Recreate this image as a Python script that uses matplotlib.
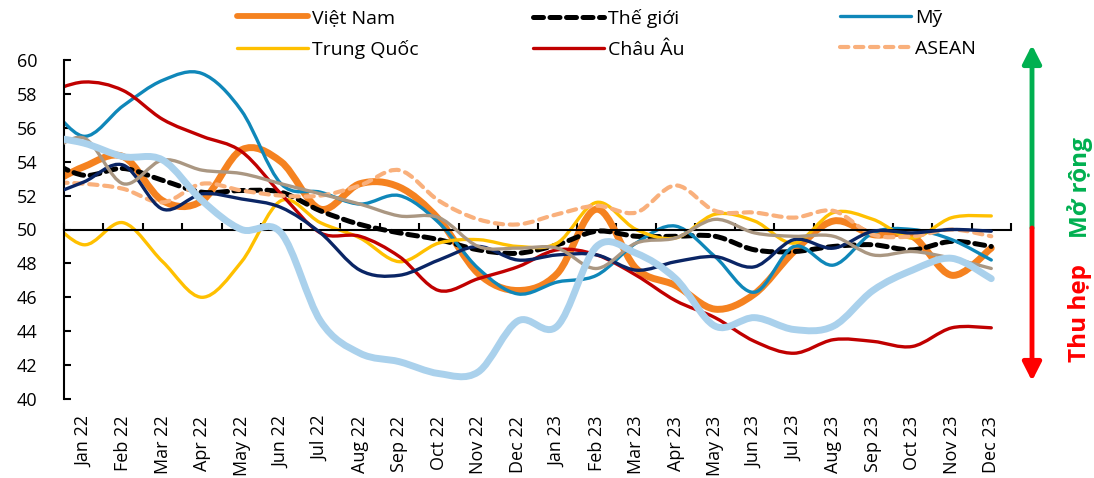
import numpy as np
import matplotlib
matplotlib.use("Agg")
import matplotlib.pyplot as plt
from matplotlib.path import Path
from matplotlib.patches import PathPatch, ArrowStyle, FancyArrowPatch
from matplotlib.lines import Line2D

plt.rcParams['font.family'] = ['Open Sans', 'DejaVu Sans']

# Categories (first entry Dec 21 lies just left of the visible axis; lines are clipped there)
months = ['Dec 21',
          'Jan 22', 'Feb 22', 'Mar 22', 'Apr 22', 'May 22', 'Jun 22', 'Jul 22', 'Aug 22',
          'Sep 22', 'Oct 22', 'Nov 22', 'Dec 22',
          'Jan 23', 'Feb 23', 'Mar 23', 'Apr 23', 'May 23', 'Jun 23', 'Jul 23', 'Aug 23',
          'Sep 23', 'Oct 23', 'Nov 23', 'Dec 23']

viet_nam = [52.5, 53.7, 54.3, 51.7, 51.7, 54.7, 54.0, 51.2, 52.7, 52.5, 50.6, 47.4, 46.4,
            47.4, 51.2, 47.7, 46.7, 45.3, 46.2, 48.7, 50.5, 49.7, 49.6, 47.3, 48.9]
the_gioi = [54.2, 53.2, 53.6, 52.9, 52.2, 52.3, 52.2, 51.1, 50.3, 49.8, 49.4, 48.8, 48.6,
            49.1, 49.9, 49.6, 49.6, 49.6, 48.8, 48.7, 49.0, 49.1, 48.8, 49.3, 49.0]
my = [57.7, 55.5, 57.3, 58.8, 59.2, 57.0, 52.7, 52.2, 51.5, 52.0, 50.4, 47.7, 46.2,
      46.9, 47.3, 49.2, 50.2, 48.4, 46.3, 49.0, 47.9, 49.8, 50.0, 49.4, 48.2]
trung_quoc = [50.9, 49.1, 50.4, 48.1, 46.0, 48.1, 51.7, 50.4, 49.5, 48.1, 49.2, 49.4, 49.0,
              49.2, 51.6, 50.0, 49.5, 50.9, 50.5, 49.2, 51.0, 50.6, 49.5, 50.7, 50.8]
chau_au = [58.0, 58.7, 58.2, 56.5, 55.5, 54.6, 52.1, 49.8, 49.6, 48.4, 46.4, 47.1, 47.8,
           48.8, 48.5, 47.3, 45.8, 44.8, 43.4, 42.7, 43.5, 43.4, 43.1, 44.2, 44.2]
asean = [52.8, 52.7, 52.4, 51.6, 52.7, 52.3, 52.0, 52.0, 52.6, 53.5, 51.7, 50.6, 50.3,
         50.9, 51.4, 51.0, 52.6, 51.1, 51.0, 50.7, 51.1, 49.7, 49.6, 50.0, 49.6]
han_quoc = [51.9, 52.8, 53.8, 51.2, 52.1, 51.8, 51.3, 49.8, 47.6, 47.3, 48.2, 49.0, 48.2,
            48.5, 48.5, 47.6, 48.1, 48.4, 47.8, 49.4, 48.9, 49.9, 49.8, 50.0, 49.9]
nhat_ban = [54.3, 55.4, 52.7, 54.1, 53.5, 53.3, 52.7, 52.1, 51.5, 50.8, 50.7, 49.0, 48.9,
            48.9, 47.7, 49.2, 49.5, 50.6, 49.8, 49.6, 49.6, 48.5, 48.7, 48.3, 47.7]
dai_loan = [55.5, 55.1, 54.3, 54.1, 51.7, 50.0, 49.8, 44.6, 42.7, 42.2, 41.5, 41.6, 44.6,
            44.3, 49.0, 48.6, 47.1, 44.3, 44.8, 44.1, 44.3, 46.4, 47.6, 48.3, 47.1]

W, H = 1094, 478
fig = plt.figure(figsize=(W / 100, H / 100), dpi=100)
ax = fig.add_axes([64 / W, 1 - 399 / H, (1011 - 64) / W, (399 - 60) / H])

xs = np.arange(len(months)) - 1.0


def smooth_path(x, y):
    """Excel-like smoothed line: cubic Bezier segments with Catmull-Rom control points."""
    P = np.column_stack([x, y])
    n = len(P)
    verts = [P[0]]
    codes = [Path.MOVETO]
    for i in range(n - 1):
        p0 = P[i - 1] if i > 0 else P[i]
        p1 = P[i]
        p2 = P[i + 1]
        p3 = P[i + 2] if i + 2 < n else P[i + 1]
        c1 = p1 + (p2 - p0) / 6.0
        c2 = p2 - (p3 - p1) / 6.0
        verts += [c1, c2, p2]
        codes += [Path.CURVE4] * 3
    return Path(np.array(verts), codes)


series = [
    # values, color, lw, linestyle, label
    (viet_nam, '#F58220', 5.0, 'solid', 'Việt Nam'),
    (the_gioi, '#000000', 3.6, (0, (2.0, 1.3)), 'Thế giới'),
    (my, '#0F87B9', 2.4, 'solid', 'Mỹ'),
    (trung_quoc, '#FFC000', 2.4, 'solid', 'Trung Quốc'),
    (chau_au, '#C00000', 2.4, 'solid', 'Châu Âu'),
    (asean, '#F9B07C', 3.0, (0, (2.0, 1.6)), 'ASEAN'),
    (han_quoc, '#0A2565', 2.4, 'solid', None),
    (nhat_ban, '#AA9782', 2.4, 'solid', None),
    (dai_loan, '#AAD1EC', 5.0, 'solid', None),
]

handles = {}
for k, (vals, col, lw, ls, lab) in enumerate(series):
    patch = PathPatch(smooth_path(xs, np.array(vals)), fill=False, edgecolor=col,
                      linewidth=lw, linestyle=ls, capstyle='round', joinstyle='round',
                      zorder=2 + k * 0.1)
    ax.add_patch(patch)
    if lab:
        handles[lab] = Line2D([], [], color=col, lw=min(lw, 4.2), linestyle=ls,
                              dash_capstyle='round', solid_capstyle='round')

ax.set_xlim(-0.5, 23.5)
ax.set_ylim(40, 60)
ax.set_yticks(np.arange(40, 61, 2))
ax.tick_params(axis='y', direction='in', length=5, width=1.5, labelsize=13, pad=19,
               colors='#000000')
ax.spines['left'].set_linewidth(1.5)
ax.spines['top'].set_visible(False)
ax.spines['right'].set_visible(False)
ax.spines['bottom'].set_position(('data', 50))
ax.spines['bottom'].set_linewidth(1.5)
ax.set_xticks(np.arange(-0.5, 24, 1))
ax.tick_params(axis='x', direction='in', length=5, width=1.5, labelbottom=False)

sec = ax.secondary_xaxis('bottom')
sec.set_xticks(xs[1:], months[1:], rotation=90)
sec.tick_params(length=0, labelsize=13, pad=12)
for s in sec.spines.values():
    s.set_visible(False)

# Legend: three columns of two entries each
cols = [(237, ['Việt Nam', 'Trung Quốc']), (533, ['Thế giới', 'Châu Âu']), (840, ['Mỹ', 'ASEAN'])]
for xpix, labs in cols:
    fig.legend([handles[l] for l in labs], labs, loc='upper left',
               bbox_to_anchor=(xpix / W, 1 - 9 / H), frameon=False,
               fontsize=14, handlelength=3.65, handletextpad=0.2,
               borderpad=0, borderaxespad=0, labelspacing=0.68)

# Expansion / contraction arrows at the right
xa = 1032 / W
y_top, y_mid, y_bot = 1 - 45 / H, 1 - 228 / H, 1 - 381 / H
style = ArrowStyle('-|>', head_length=0.55, head_width=0.28)
fig.add_artist(FancyArrowPatch((xa, y_mid), (xa, y_top), transform=fig.transFigure,
                               arrowstyle=style, mutation_scale=20, color='#00B050', lw=3.5,
                               shrinkA=0, shrinkB=0))
fig.add_artist(FancyArrowPatch((xa, y_mid), (xa, y_bot), transform=fig.transFigure,
                               arrowstyle=style, mutation_scale=20, color='#FF0000', lw=3.5,
                               shrinkA=0, shrinkB=0))
fig.text(1080 / W, 1 - 188 / H, 'Mở rộng', rotation=90, color='#00B050', fontsize=17.5,
         fontweight='bold', ha='center', va='center')
fig.text(1080 / W, 1 - 313 / H, 'Thu hẹp', rotation=90, color='#FF0000', fontsize=17.5,
         fontweight='bold', ha='center', va='center')

fig.savefig('out.png', dpi=100)
